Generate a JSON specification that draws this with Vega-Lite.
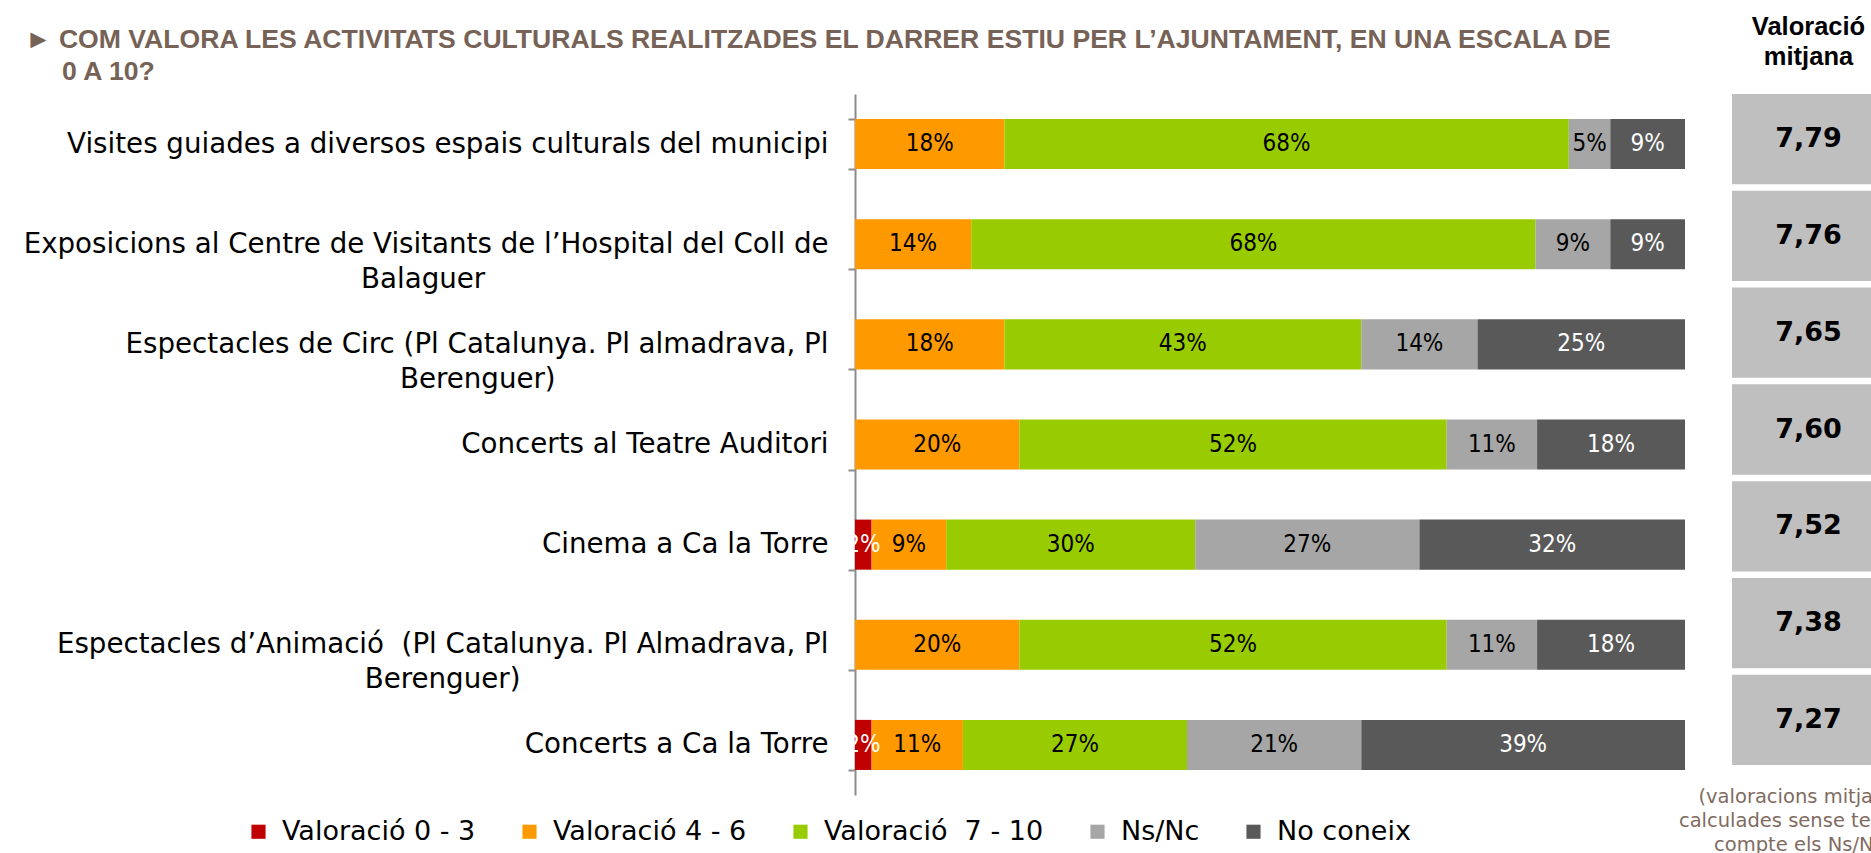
{
  "$schema": "https://vega.github.io/schema/vega-lite/v6.json",
  "padding": {"left": 23, "top": 14, "right": 0, "bottom": 0},
  "background": "white",
  "bounds": "flush",
  "spacing": 47,
  "resolve": {"scale": {"y": "independent"}},
  "config": {
    "locale": {"number": {"decimal": ",", "thousands": ".", "grouping": [3], "currency": ["", " €"]}},
    "view": {"stroke": null}
  },
  "datasets": {
    "bars": [
      {"act": "Visites guiades a diversos espais culturals del municipi", "cat": "Valoració 4 - 6", "k": 2, "share": 0.18},
      {"act": "Visites guiades a diversos espais culturals del municipi", "cat": "Valoració\u00a0 7 - 10", "k": 3, "share": 0.68},
      {"act": "Visites guiades a diversos espais culturals del municipi", "cat": "Ns/Nc", "k": 4, "share": 0.05},
      {"act": "Visites guiades a diversos espais culturals del municipi", "cat": "No coneix", "k": 5, "share": 0.09},
      {"act": "Exposicions al Centre de Visitants de l’Hospital del Coll de|Balaguer\u00a0\u00a0\u00a0\u00a0\u00a0\u00a0\u00a0\u00a0\u00a0\u00a0\u00a0\u00a0\u00a0\u00a0\u00a0\u00a0\u00a0\u00a0\u00a0\u00a0\u00a0\u00a0\u00a0\u00a0\u00a0\u00a0\u00a0\u00a0\u00a0\u00a0\u00a0\u00a0\u00a0\u00a0\u00a0\u00a0\u00a0\u00a0\u00a0\u2060", "cat": "Valoració 4 - 6", "k": 2, "share": 0.14},
      {"act": "Exposicions al Centre de Visitants de l’Hospital del Coll de|Balaguer\u00a0\u00a0\u00a0\u00a0\u00a0\u00a0\u00a0\u00a0\u00a0\u00a0\u00a0\u00a0\u00a0\u00a0\u00a0\u00a0\u00a0\u00a0\u00a0\u00a0\u00a0\u00a0\u00a0\u00a0\u00a0\u00a0\u00a0\u00a0\u00a0\u00a0\u00a0\u00a0\u00a0\u00a0\u00a0\u00a0\u00a0\u00a0\u00a0\u2060", "cat": "Valoració\u00a0 7 - 10", "k": 3, "share": 0.68},
      {"act": "Exposicions al Centre de Visitants de l’Hospital del Coll de|Balaguer\u00a0\u00a0\u00a0\u00a0\u00a0\u00a0\u00a0\u00a0\u00a0\u00a0\u00a0\u00a0\u00a0\u00a0\u00a0\u00a0\u00a0\u00a0\u00a0\u00a0\u00a0\u00a0\u00a0\u00a0\u00a0\u00a0\u00a0\u00a0\u00a0\u00a0\u00a0\u00a0\u00a0\u00a0\u00a0\u00a0\u00a0\u00a0\u00a0\u2060", "cat": "Ns/Nc", "k": 4, "share": 0.09},
      {"act": "Exposicions al Centre de Visitants de l’Hospital del Coll de|Balaguer\u00a0\u00a0\u00a0\u00a0\u00a0\u00a0\u00a0\u00a0\u00a0\u00a0\u00a0\u00a0\u00a0\u00a0\u00a0\u00a0\u00a0\u00a0\u00a0\u00a0\u00a0\u00a0\u00a0\u00a0\u00a0\u00a0\u00a0\u00a0\u00a0\u00a0\u00a0\u00a0\u00a0\u00a0\u00a0\u00a0\u00a0\u00a0\u00a0\u2060", "cat": "No coneix", "k": 5, "share": 0.09},
      {"act": "Espectacles de Circ (Pl Catalunya. Pl almadrava, Pl|Berenguer)\u00a0\u00a0\u00a0\u00a0\u00a0\u00a0\u00a0\u00a0\u00a0\u00a0\u00a0\u00a0\u00a0\u00a0\u00a0\u00a0\u00a0\u00a0\u00a0\u00a0\u00a0\u00a0\u00a0\u00a0\u00a0\u00a0\u00a0\u00a0\u00a0\u00a0\u00a0\u2060", "cat": "Valoració 4 - 6", "k": 2, "share": 0.18},
      {"act": "Espectacles de Circ (Pl Catalunya. Pl almadrava, Pl|Berenguer)\u00a0\u00a0\u00a0\u00a0\u00a0\u00a0\u00a0\u00a0\u00a0\u00a0\u00a0\u00a0\u00a0\u00a0\u00a0\u00a0\u00a0\u00a0\u00a0\u00a0\u00a0\u00a0\u00a0\u00a0\u00a0\u00a0\u00a0\u00a0\u00a0\u00a0\u00a0\u2060", "cat": "Valoració\u00a0 7 - 10", "k": 3, "share": 0.43},
      {"act": "Espectacles de Circ (Pl Catalunya. Pl almadrava, Pl|Berenguer)\u00a0\u00a0\u00a0\u00a0\u00a0\u00a0\u00a0\u00a0\u00a0\u00a0\u00a0\u00a0\u00a0\u00a0\u00a0\u00a0\u00a0\u00a0\u00a0\u00a0\u00a0\u00a0\u00a0\u00a0\u00a0\u00a0\u00a0\u00a0\u00a0\u00a0\u00a0\u2060", "cat": "Ns/Nc", "k": 4, "share": 0.14},
      {"act": "Espectacles de Circ (Pl Catalunya. Pl almadrava, Pl|Berenguer)\u00a0\u00a0\u00a0\u00a0\u00a0\u00a0\u00a0\u00a0\u00a0\u00a0\u00a0\u00a0\u00a0\u00a0\u00a0\u00a0\u00a0\u00a0\u00a0\u00a0\u00a0\u00a0\u00a0\u00a0\u00a0\u00a0\u00a0\u00a0\u00a0\u00a0\u00a0\u2060", "cat": "No coneix", "k": 5, "share": 0.25},
      {"act": "Concerts al Teatre Auditori", "cat": "Valoració 4 - 6", "k": 2, "share": 0.20},
      {"act": "Concerts al Teatre Auditori", "cat": "Valoració\u00a0 7 - 10", "k": 3, "share": 0.52},
      {"act": "Concerts al Teatre Auditori", "cat": "Ns/Nc", "k": 4, "share": 0.11},
      {"act": "Concerts al Teatre Auditori", "cat": "No coneix", "k": 5, "share": 0.18},
      {"act": "Cinema a Ca la Torre", "cat": "Valoració 0 - 3", "k": 1, "share": 0.02},
      {"act": "Cinema a Ca la Torre", "cat": "Valoració 4 - 6", "k": 2, "share": 0.09},
      {"act": "Cinema a Ca la Torre", "cat": "Valoració\u00a0 7 - 10", "k": 3, "share": 0.30},
      {"act": "Cinema a Ca la Torre", "cat": "Ns/Nc", "k": 4, "share": 0.27},
      {"act": "Cinema a Ca la Torre", "cat": "No coneix", "k": 5, "share": 0.32},
      {"act": "Espectacles d’Animació\u00a0 (Pl Catalunya. Pl Almadrava, Pl|Berenguer)\u00a0\u00a0\u00a0\u00a0\u00a0\u00a0\u00a0\u00a0\u00a0\u00a0\u00a0\u00a0\u00a0\u00a0\u00a0\u00a0\u00a0\u00a0\u00a0\u00a0\u00a0\u00a0\u00a0\u00a0\u00a0\u00a0\u00a0\u00a0\u00a0\u00a0\u00a0\u00a0\u00a0\u00a0\u00a0\u2060", "cat": "Valoració 4 - 6", "k": 2, "share": 0.20},
      {"act": "Espectacles d’Animació\u00a0 (Pl Catalunya. Pl Almadrava, Pl|Berenguer)\u00a0\u00a0\u00a0\u00a0\u00a0\u00a0\u00a0\u00a0\u00a0\u00a0\u00a0\u00a0\u00a0\u00a0\u00a0\u00a0\u00a0\u00a0\u00a0\u00a0\u00a0\u00a0\u00a0\u00a0\u00a0\u00a0\u00a0\u00a0\u00a0\u00a0\u00a0\u00a0\u00a0\u00a0\u00a0\u2060", "cat": "Valoració\u00a0 7 - 10", "k": 3, "share": 0.52},
      {"act": "Espectacles d’Animació\u00a0 (Pl Catalunya. Pl Almadrava, Pl|Berenguer)\u00a0\u00a0\u00a0\u00a0\u00a0\u00a0\u00a0\u00a0\u00a0\u00a0\u00a0\u00a0\u00a0\u00a0\u00a0\u00a0\u00a0\u00a0\u00a0\u00a0\u00a0\u00a0\u00a0\u00a0\u00a0\u00a0\u00a0\u00a0\u00a0\u00a0\u00a0\u00a0\u00a0\u00a0\u00a0\u2060", "cat": "Ns/Nc", "k": 4, "share": 0.11},
      {"act": "Espectacles d’Animació\u00a0 (Pl Catalunya. Pl Almadrava, Pl|Berenguer)\u00a0\u00a0\u00a0\u00a0\u00a0\u00a0\u00a0\u00a0\u00a0\u00a0\u00a0\u00a0\u00a0\u00a0\u00a0\u00a0\u00a0\u00a0\u00a0\u00a0\u00a0\u00a0\u00a0\u00a0\u00a0\u00a0\u00a0\u00a0\u00a0\u00a0\u00a0\u00a0\u00a0\u00a0\u00a0\u2060", "cat": "No coneix", "k": 5, "share": 0.18},
      {"act": "Concerts a Ca la Torre", "cat": "Valoració 0 - 3", "k": 1, "share": 0.02},
      {"act": "Concerts a Ca la Torre", "cat": "Valoració 4 - 6", "k": 2, "share": 0.11},
      {"act": "Concerts a Ca la Torre", "cat": "Valoració\u00a0 7 - 10", "k": 3, "share": 0.27},
      {"act": "Concerts a Ca la Torre", "cat": "Ns/Nc", "k": 4, "share": 0.21},
      {"act": "Concerts a Ca la Torre", "cat": "No coneix", "k": 5, "share": 0.39}
    ],
    "means": [
      {"act": "Visites guiades", "m": 7.79},
      {"act": "Exposicions", "m": 7.76},
      {"act": "Espectacles de Circ", "m": 7.65},
      {"act": "Concerts Teatre Auditori", "m": 7.60},
      {"act": "Cinema Ca la Torre", "m": 7.52},
      {"act": "Espectacles d'Animació", "m": 7.38},
      {"act": "Concerts Ca la Torre", "m": 7.27}
    ]
  },
  "hconcat": [
    {
      "width": 830,
      "height": 701,
      "data": {"name": "bars"},
      "title": {
        "text": ["► COM VALORA LES ACTIVITATS CULTURALS REALITZADES EL DARRER ESTIU PER L’AJUNTAMENT, EN UNA ESCALA DE", "\u2060\u00a0\u00a0\u00a0\u00a0\u00a00 A 10?"],
        "anchor": "start",
        "frame": "bounds",
        "font": "Liberation Sans",
        "fontSize": 26.6,
        "fontWeight": "bold",
        "color": "#766256",
        "lineHeight": 32,
        "offset": -6,
        "dx": 2
      },
      "layer": [
        {
          "mark": {"type": "bar"},
          "encoding": {
            "y": {
              "field": "act", "type": "nominal", "sort": null,
              "scale": {"paddingInner": 0.5, "paddingOuter": 0.25},
              "axis": {
                "title": null,
                "labelExpr": "split(datum.label, '|')",
                "labelFont": "DejaVu Sans",
                "labelFontSize": 27.7,
                "labelColor": "black",
                "labelLineHeight": 35,
                "labelPadding": 20,
                "labelLimit": 1000,
                "tickBand": "extent",
                "tickSize": 7,
                "tickColor": "#8c8c8c",
                "domainColor": "#8c8c8c",
                "domainWidth": 2,
                "tickWidth": 2
              }
            },
            "x": {"field": "share", "type": "quantitative", "stack": "normalize", "axis": null},
            "order": {"field": "k"},
            "color": {
              "field": "cat", "type": "nominal",
              "scale": {
                "domain": ["Valoració 0 - 3", "Valoració 4 - 6", "Valoració\u00a0 7 - 10", "Ns/Nc", "No coneix"],
                "range": ["#C00000", "#FF9900", "#99CC00", "#A6A6A6", "#595959"]
              },
              "legend": {
                "orient": "none",
                "legendX": -610,
                "legendY": 724,
                "direction": "horizontal",
                "title": null,
                "symbolType": "square",
                "symbolSize": 200,
                "symbolStrokeWidth": 0,
                "labelFont": "DejaVu Sans",
                "labelFontSize": 27,
                "labelColor": "black",
                "labelOffset": 10,
                "columnPadding": 40,
                "labelLimit": 500
              }
            }
          }
        },
        {
          "mark": {"type": "text", "font": "DejaVu Sans Condensed", "fontSize": 24},
          "encoding": {
            "y": {"field": "act", "type": "nominal", "sort": null},
            "x": {"field": "share", "type": "quantitative", "stack": "normalize", "bandPosition": 0.5},
            "order": {"field": "k"},
            "detail": {"field": "cat"},
            "text": {"field": "share", "type": "quantitative", "format": ".0%"},
            "color": {
              "condition": {"test": "datum.cat == 'Valoració 0 - 3' || datum.cat == 'No coneix'", "value": "white"},
              "value": "black"
            }
          }
        }
      ]
    },
    {
      "width": 141,
      "height": 671,
      "data": {"name": "means"},
      "title": {
        "text": ["Valoració", "mitjana"],
        "font": "Liberation Sans",
        "fontSize": 25.5,
        "fontWeight": "bold",
        "color": "black",
        "anchor": "middle",
        "lineHeight": 30,
        "dx": 6,
        "offset": 24
      },
      "encoding": {
        "y": {"field": "act", "type": "nominal", "sort": null, "axis": null,
              "scale": {"paddingInner": 0.067, "paddingOuter": 0}}
      },
      "layer": [
        {
          "mark": {"type": "rect", "color": "#BFBFBF"},
          "encoding": {
            "x": {
              "datum": 0, "type": "quantitative", "scale": {"domain": [0, 1]},
              "axis": {
                "title": ["(valoracions mitjanes", "calculades sense tenir en", "compte els Ns/Nc)"],
                "titleFont": "DejaVu Sans",
                "titleFontSize": 19.5,
                "titleFontWeight": "normal",
                "titleColor": "#7F6B5F",
                "titleLineHeight": 24,
                "titlePadding": 22,
                "domain": false,
                "ticks": false,
                "labels": false,
                "grid": false
              }
            },
            "x2": {"datum": 1}
          }
        },
        {
          "mark": {"type": "text", "font": "DejaVu Sans", "fontWeight": "bold", "fontSize": 27, "dx": 6},
          "encoding": {
            "x": {"datum": 0.5, "type": "quantitative"},
            "text": {"field": "m", "type": "quantitative", "format": ".2f"}
          }
        }
      ]
    }
  ]
}
